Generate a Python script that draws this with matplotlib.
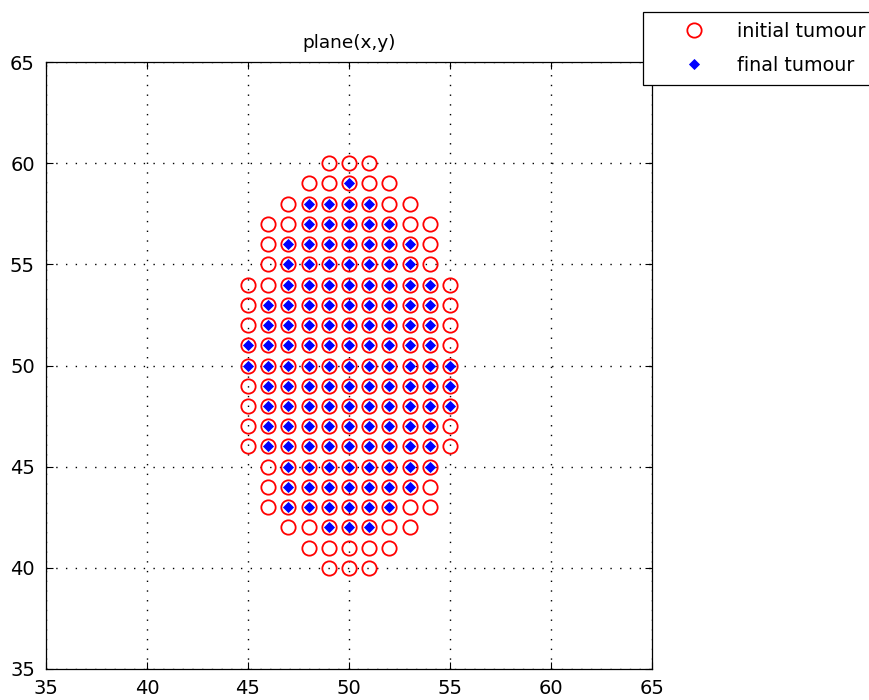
import numpy as np
import matplotlib
matplotlib.use("Agg")
import matplotlib.pyplot as plt

# Tumour cell lattice: each row is (y, first x, last x)
initial_y    = [60, 59, 58, 57, 56, 55, 54, 53, 52, 51, 50, 49, 48, 47, 46, 45, 44, 43, 42, 41, 40]
initial_xmin = [49, 48, 47, 46, 46, 46, 45, 45, 45, 45, 45, 45, 45, 45, 45, 46, 46, 46, 47, 48, 49]
initial_xmax = [51, 52, 53, 54, 54, 54, 55, 55, 55, 55, 55, 55, 55, 55, 55, 54, 54, 54, 53, 52, 51]

final_y    = [59, 58, 57, 56, 55, 54, 53, 52, 51, 50, 49, 48, 47, 46, 45, 44, 43, 42]
final_xmin = [50, 48, 48, 47, 47, 47, 46, 46, 45, 45, 46, 46, 46, 46, 47, 47, 47, 49]
final_xmax = [50, 51, 52, 53, 53, 54, 54, 54, 54, 55, 55, 55, 54, 54, 54, 53, 52, 51]

axis_ticks = [35, 40, 45, 50, 55, 60, 65]


def expand(rows_y, xmin, xmax):
    xs, ys = [], []
    for y, a, b in zip(rows_y, xmin, xmax):
        for x in range(a, b + 1):
            xs.append(x)
            ys.append(y)
    return np.array(xs), np.array(ys)


xi, yi = expand(initial_y, initial_xmin, initial_xmax)
xf, yf = expand(final_y, final_xmin, final_xmax)

plt.rcParams['font.family'] = ['DejaVu Sans']

fig = plt.figure(figsize=(8.7, 7.0), dpi=100, facecolor='white')
ax = fig.add_axes([46 / 870, 31 / 700, 606 / 870, 607 / 700])

ax.plot(xi, yi, linestyle='none', marker='o', markersize=10.3,
        markerfacecolor='none', markeredgecolor='#ff0000', markeredgewidth=1.3,
        label='initial tumour', zorder=3)
ax.plot(xf, yf, linestyle='none', marker='D', markersize=5.0,
        markerfacecolor='#0000ff', markeredgecolor='#0000ff', markeredgewidth=0.6,
        label='final tumour', zorder=4)

ax.set_xlim(35, 65)
ax.set_ylim(35, 65)
ax.set_xticks(axis_ticks)
ax.set_yticks(axis_ticks)
ax.grid(True, color='black', linestyle=(0, (1, 6)), linewidth=1.0)
ax.set_axisbelow(True)

ax.tick_params(direction='in', length=5, width=0.8, top=True, right=True,
               labelsize=14, colors='black')
ax.tick_params(axis='x', pad=7)
ax.tick_params(axis='y', pad=8)
for sp in ax.spines.values():
    sp.set_color('black')
    sp.set_linewidth(0.9)

ax.set_title('plane(x,y)', fontsize=13.3, pad=10)

leg = ax.legend(loc='upper left', bbox_to_anchor=(643 / 870, 1 - 12 / 700),
                bbox_transform=fig.transFigure, borderaxespad=0,
                fontsize=13.8, numpoints=1, handlelength=4.3, handletextpad=0.12,
                borderpad=0.5, labelspacing=0.8, fancybox=False, frameon=True,
                framealpha=1, edgecolor='black')
leg.get_frame().set_linewidth(0.9)

fig.savefig('out.png', dpi=100, facecolor='white')
